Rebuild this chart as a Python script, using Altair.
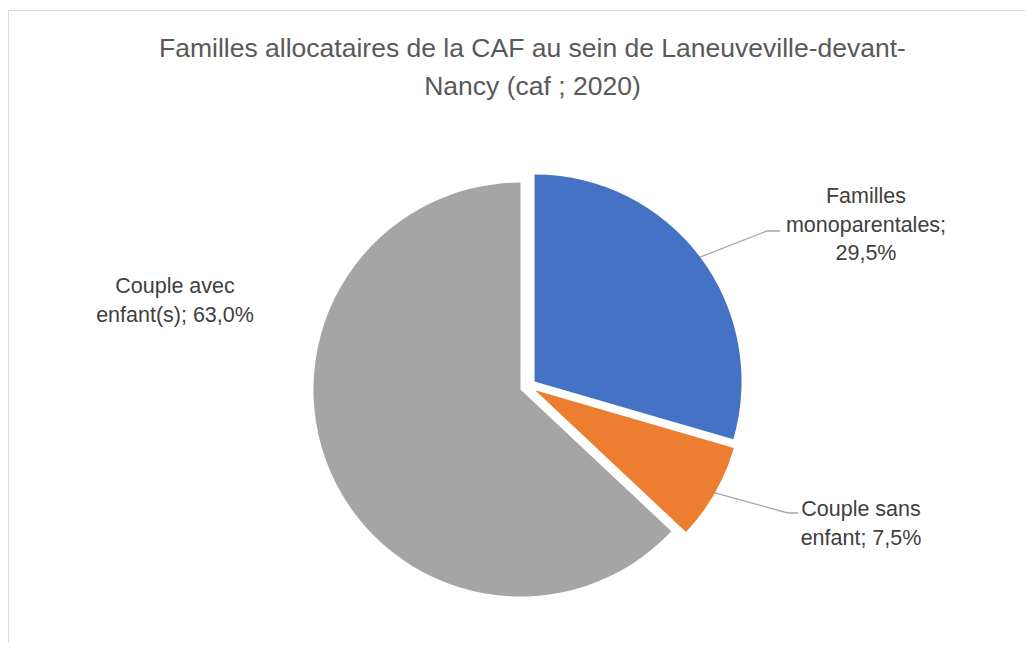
import math
import altair as alt
import pandas as pd

# ---- data ----
categories = ["Familles monoparentales", "Couple sans enfant", "Couple avec enfant(s)"]
shares = [29.5, 7.5, 63.0]
label_texts = ["Familles\nmonoparentales;\n29,5%", "Couple sans\nenfant; 7,5%", "Couple avec\nenfant(s); 63,0%"]
title_lines = ["Familles allocataires de la CAF au sein de Laneuveville-devant-", "Nancy (caf ; 2020)"]
colors = ["#4472C4", "#ED7D31", "#A5A5A5"]

# ---- layout / style (view px = page px - 8) ----
W, H = 1017, 635
CX, CY = 520, 378.3      # pie centre
R = 207                  # pie radius
EXPLODE = 8.2            # slice explosion
label_x = [858, 853, 167]
label_y = [195, 508, 285]          # first-line baselines
leader_elbow = [(759, 223), (780, 505), None]
leader_end = [(772, 223), (790, 505), None]
FONT = "Liberation Sans"

pie_df = pd.DataFrame({"category": categories, "share": shares, "order": list(range(len(shares)))})

pie = alt.Chart(pie_df).transform_window(
    cum="sum(share)", sort=[alt.SortField("order")]
).transform_joinaggregate(
    total="sum(share)"
).transform_calculate(
    mid="2*PI*(datum.cum - datum.share/2)/datum.total",
).transform_calculate(
    px=f"{CX} + {EXPLODE}*sin(datum.mid)",
    py=f"{CY} - {EXPLODE}*cos(datum.mid)",
).mark_arc(radius=R).encode(
    theta=alt.Theta("share:Q", stack=True),
    order=alt.Order("order:Q"),
    x=alt.X("px:Q", scale=None, axis=None),
    y=alt.Y("py:Q", scale=None, axis=None),
    color=alt.Color("category:N", scale=alt.Scale(domain=categories, range=colors), legend=None),
)

# leader lines: from the slice edge at its mid-angle to the label
rows = []
total = sum(shares)
cum = 0.0
for i, s in enumerate(shares):
    mid = 2 * math.pi * (cum + s / 2) / total
    cum += s
    if leader_elbow[i] is None:
        continue
    sx = CX + (EXPLODE + R) * math.sin(mid)
    sy = CY - (EXPLODE + R) * math.cos(mid)
    pts = [(sx, sy), leader_elbow[i], leader_end[i]]
    for k, (px, py) in enumerate(pts):
        rows.append({"seg": categories[i], "pt": k, "lx": px, "ly": py})
leader_df = pd.DataFrame(rows)

leaders = alt.Chart(leader_df).mark_line(color="#A6A6A6", strokeWidth=1.3).encode(
    x=alt.X("lx:Q", scale=None, axis=None),
    y=alt.Y("ly:Q", scale=None, axis=None),
    detail="seg:N",
    order="pt:Q",
)

label_df = pd.DataFrame({"label": label_texts, "tx": label_x, "ty": label_y})
labels = alt.Chart(label_df).mark_text(
    align="center", baseline="alphabetic", lineBreak="\n", lineHeight=28.5,
    fontSize=21.5, font=FONT, color="#404040",
).encode(
    x=alt.X("tx:Q", scale=None, axis=None),
    y=alt.Y("ty:Q", scale=None, axis=None),
    text="label:N",
)

border = alt.Chart(pd.DataFrame({"a": [0]})).mark_rect(
    fillOpacity=0, stroke="#D9D9D9", strokeWidth=1
).encode(
    x=alt.value(0.5), x2=alt.value(W + 40),
    y=alt.value(2.5), y2=alt.value(H + 60),
)

chart = alt.layer(border, pie, leaders, labels).properties(
    width=W, height=H,
    autosize=alt.AutoSizeParams(type="none"),
    padding={"left": 0, "top": 0, "right": 0, "bottom": 0},
    title=alt.TitleParams(
        text=title_lines, anchor="middle", fontSize=26.5, font=FONT, fontWeight="normal",
        color="#595959", lineHeight=38, offset=0, baseline="bottom", dy=119, dx=16,
    ),
).configure_view(strokeWidth=0)

chart.save("out.html", embed_options={"renderer": "svg", "actions": False})
